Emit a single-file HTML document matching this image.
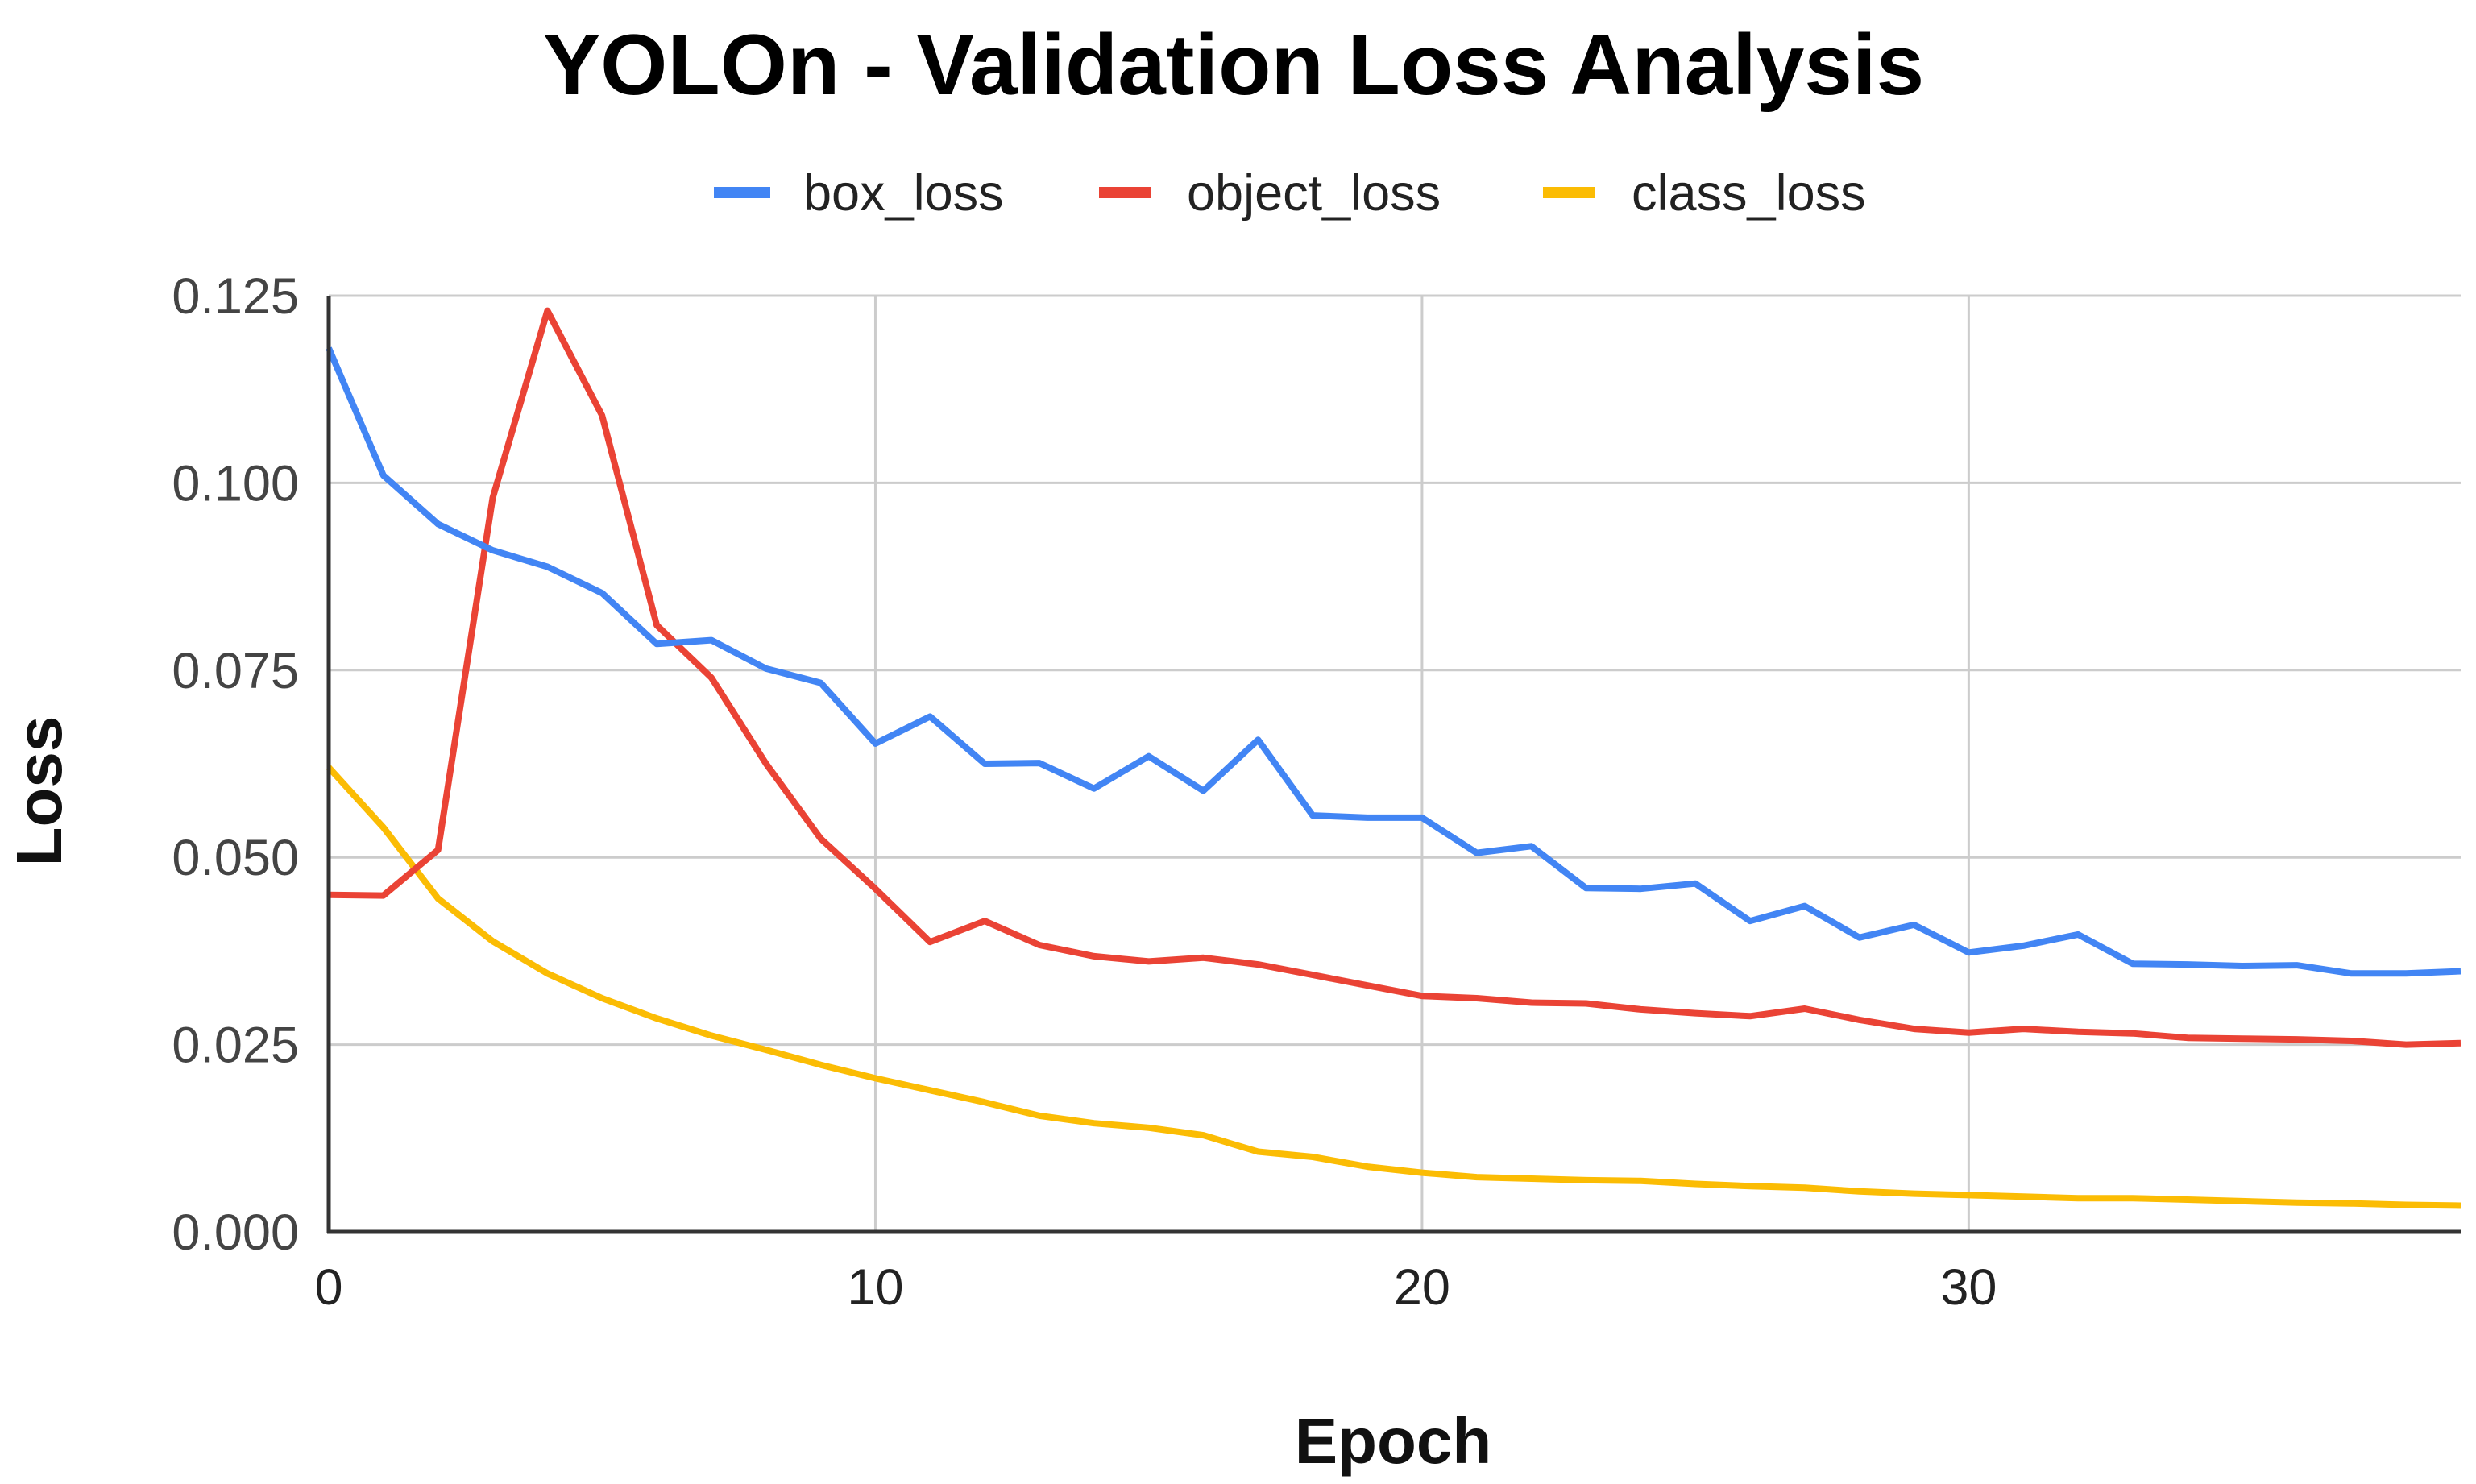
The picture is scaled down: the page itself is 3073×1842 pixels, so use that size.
<!DOCTYPE html>
<html><head><meta charset="utf-8"><style>
html,body{margin:0;padding:0;background:#fff;}
svg{display:block;font-family:"Liberation Sans",Arial,sans-serif;}
</style></head><body>
<svg id="chart" width="3073" height="1842" viewBox="0 0 3073 1842" xmlns="http://www.w3.org/2000/svg">
<rect width="3073" height="1842" fill="#fff"/>
<text x="1531" y="117" text-anchor="middle" font-size="107" font-weight="bold" fill="#000">YOLOn - Validation Loss Analysis</text>
<g>
<g><rect x="886" y="232" width="70" height="14" fill="#4285F4"/><text x="997" y="261" font-size="63" fill="#222">box_loss</text></g>
<g><rect x="1364" y="232" width="64" height="14" fill="#EA4335"/><text x="1473" y="261" font-size="63" fill="#222">object_loss</text></g>
<g><rect x="1915" y="232" width="64" height="14" fill="#FBBC04"/><text x="2025" y="261" font-size="63" fill="#222">class_loss</text></g>
</g>
<g id="grid"></g>
<g id="series"></g>
<g id="axes"></g>
<text x="1729" y="1816" text-anchor="middle" font-size="80" font-weight="bold" fill="#111">Epoch</text>
<text x="0" y="0" transform="translate(76,982) rotate(-90)" text-anchor="middle" font-size="80" font-weight="bold" fill="#111">Loss</text>
</svg>
<script>
const epochs = Array.from({length:40},(_,i)=>i);
const boxLoss = [.118,.101,.0945,.091,.0888,.0853,.0785,.079,.0752,.0733,.0652,.0688,.0625,.0626,.0592,.0635,.0589,.0657,.0556,.0553,.0553,.0506,.0515,.0459,.0458,.0465,.0415,.0435,.0393,.041,.0373,.0382,.0397,.0358,.0357,.0355,.0356,.0345,.0345,.0348];
const objectLoss = [.045,.0449,.051,.098,.123,.109,.081,.074,.0625,.0525,.0458,.0387,.0415,.0383,.0368,.0361,.0366,.0357,.0343,.0329,.0315,.0312,.0306,.0305,.0297,.0292,.0288,.0298,.0283,.0271,.0266,.0271,.0267,.0265,.0259,.0258,.0257,.0255,.0250,.0252];
const classLoss = [.062,.054,.0445,.0388,.0345,.0312,.0285,.0262,.0243,.0223,.0205,.0189,.0173,.0155,.0145,.0139,.0129,.0107,.0100,.0087,.0079,.0073,.0071,.0069,.0068,.0064,.0061,.0059,.0054,.0051,.0049,.0047,.0045,.0045,.0043,.0041,.0039,.0038,.0036,.0035];
const yTicks = [0,0.025,0.05,0.075,0.1,0.125];
const yTickLabels = ["0.000","0.025","0.050","0.075","0.100","0.125"];
const xTicks = [0,10,20,30];
const xTickLabels = ["0","10","20","30"];

const L=408,R=3054,T=367,B=1529,XMAX=39,YMAX=0.125;
const xs=v=>L+(v/XMAX)*(R-L);
const ys=v=>B-(v/YMAX)*(B-T);
const NS="http://www.w3.org/2000/svg";
function mk(tag,attrs,parent){const e=document.createElementNS(NS,tag);for(const k in attrs)e.setAttribute(k,attrs[k]);parent.appendChild(e);return e;}
const grid=document.getElementById('grid'),axes=document.getElementById('axes'),series=document.getElementById('series');
yTicks.forEach((t,i)=>{
  if(t>0){const g=mk('line',{x1:L,x2:R,y1:ys(t),y2:ys(t),stroke:'#ccc','stroke-width':3},grid);
  
  }
  const lb=mk('text',{x:371,y:ys(t)+22,'text-anchor':'end','font-size':63,fill:'#444'},axes);
  lb.textContent=yTickLabels[i];
  
  
});
xTicks.forEach((t,i)=>{
  if(t>0){const g=mk('line',{x1:xs(t),x2:xs(t),y1:T,y2:B,stroke:'#ccc','stroke-width':3},grid);
  
  }
  const lb=mk('text',{x:xs(t),y:1619,'text-anchor':'middle','font-size':63,fill:'#222'},axes);
  lb.textContent=xTickLabels[i];
  
  
});
const ax=mk('line',{x1:L,x2:L,y1:T,y2:B+2,stroke:'#333','stroke-width':5},axes);


const bx=mk('line',{x1:L-2,x2:R,y1:B,y2:B,stroke:'#333','stroke-width':5},axes);


function draw(data,color,name){
  const d=data.map((v,i)=>(i?'L':'M')+xs(epochs[i]).toFixed(1)+','+ys(v).toFixed(1)).join(' ');
  const p=mk('path',{d:d,fill:'none',stroke:color,'stroke-width':8,'stroke-linejoin':'round'},series);
  
  
}
draw(classLoss,'#FBBC04','class-loss-line');
draw(objectLoss,'#EA4335','object-loss-line');
draw(boxLoss,'#4285F4','box-loss-line');
</script>
</body></html>
